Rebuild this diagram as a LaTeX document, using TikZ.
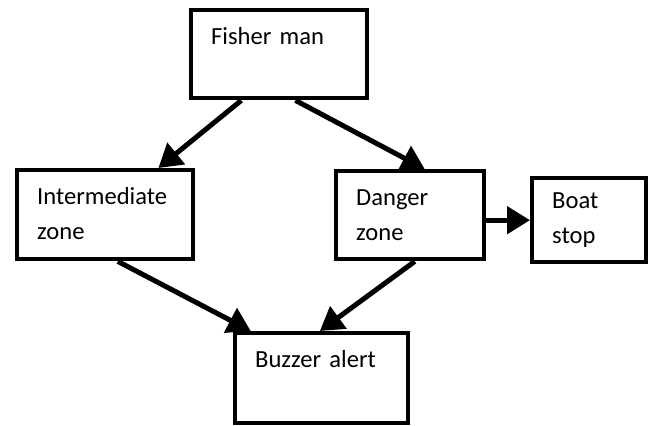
\documentclass[tikz,border=0pt]{standalone}
\usepackage{fontspec}
\setmainfont{Carlito}
\usetikzlibrary{arrows.meta,calc}
\begin{document}
\begin{tikzpicture}[x=0.5pt, y=-0.5pt,
  every node/.style = {shape=rectangle, draw, line width=2.2pt,
    anchor=north west, align=left, inner xsep=10pt, inner ysep=0pt,
    text height=17pt, font=\fontsize{12.3pt}{17.5pt}\selectfont},
  flow/.style = {line width=2.5pt,
    -{Triangle[length=11.5pt,width=13.5pt]}}]
  \useasboundingbox (0,0) rectangle (649,426);
  \node[text width=68pt, text depth=27pt] (fisher) at (189,8) {Fisher man};
  \node[text width=68pt, text depth=27.5pt] (inter) at (15,168) {Intermediate\\zone};
  \node[text width=54pt, text depth=27pt] (danger) at (334,169) {Danger\\zone};
  \node[text width=37pt, text height=15pt, text depth=27pt] (boat) at (530,176) {Boat\\stop};
  \node[text width=66.5pt, text depth=28pt] (buzzer) at (233,331) {Buzzer alert};
  \draw[flow] ($(fisher.south west)!0.29!(fisher.south east)$)
    -- ($(inter.north west)!0.795!(inter.north east)$);
  \draw[flow] ($(fisher.south west)!0.59!(fisher.south east)$)
    -- ($(danger.north west)!0.595!(danger.north east)$);
  \draw[flow] ($(inter.south west)!0.57!(inter.south east)$)
    -- ($(buzzer.north west)!0.1!(buzzer.north east)$);
  \draw[flow] ($(danger.south west)!0.53!(danger.south east)$)
    -- ($(buzzer.north west)!0.49!(buzzer.north east)$);
  \draw[flow] (danger.east |- boat.west) -- (boat.west);
\end{tikzpicture}
\end{document}
